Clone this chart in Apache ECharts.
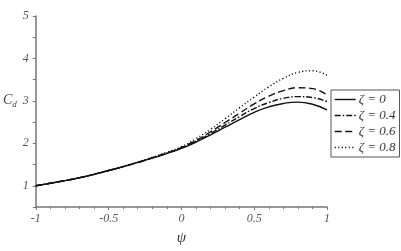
<!DOCTYPE html>
<html><head><meta charset="utf-8">
<script src="https://cdn.jsdelivr.net/npm/echarts@6/dist/echarts.min.js"></script>
<style>html,body{margin:0;padding:0;background:#fff}#c{width:401px;height:251px}</style>
</head><body><div id="c"></div>
<script>
var psi = [-1,-0.9,-0.8,-0.7,-0.6,-0.5,-0.4,-0.3,-0.2,-0.1,0,0.1,0.2,0.3,0.4,0.5,0.6,0.7,0.8,0.9,1];
var zeta0  = [1.00,1.06,1.12,1.19,1.27,1.36,1.45,1.55,1.65,1.76,1.88,2.03,2.20,2.38,2.56,2.73,2.86,2.94,2.97,2.92,2.79];
var zeta04 = [1.00,1.06,1.12,1.19,1.27,1.36,1.45,1.55,1.66,1.77,1.89,2.05,2.23,2.43,2.63,2.82,2.96,3.06,3.10,3.08,2.98];
var zeta06 = [1.00,1.06,1.12,1.19,1.27,1.36,1.45,1.55,1.66,1.77,1.90,2.07,2.27,2.49,2.71,2.93,3.11,3.24,3.31,3.29,3.14];
var zeta08 = [1.00,1.06,1.12,1.19,1.27,1.36,1.46,1.56,1.67,1.79,1.92,2.11,2.33,2.58,2.84,3.09,3.33,3.53,3.67,3.71,3.60];
var seriesNames = ['ζ = 0','ζ = 0.4','ζ = 0.6','ζ = 0.8'];
var xTicks = ['-1','-0.5','0','0.5','1'];
var yTicks = ['1','2','3','4','5'];

function pairs(v){ return psi.map(function(x,i){ return [x, v[i]]; }); }
var dashes = ['solid', [6,2,1.5,2], [7,3.5], [1.2,2.3]];
var vals = [zeta0, zeta04, zeta06, zeta08];
var font = '"Liberation Serif","Times New Roman",serif';

var chart = echarts.init(document.getElementById('c'), null, {renderer:'canvas'});
chart.setOption({
  animation:false,
  backgroundColor:'#fff',
  grid:{left:30, right:74, top:16, bottom:38},
  legend:{
    orient:'vertical', left:331, top:90, width:66,
    padding:[3,4,3,3], itemGap:3, itemWidth:21, itemHeight:14,
    borderColor:'#555', borderWidth:1, backgroundColor:'#fff',
    data:seriesNames,
    itemStyle:{opacity:0, color:'transparent', borderWidth:0},
    lineStyle:{width:1.4},
    textStyle:{fontFamily:font, fontStyle:'italic', fontSize:13, color:'#333', padding:[0,0,0,-2]}
  },
  xAxis:{
    type:'value', min:-1, max:1, interval:0.5,
    name:'ψ', nameLocation:'middle', nameGap:24,
    nameTextStyle:{fontFamily:font, fontStyle:'italic', fontSize:15, color:'#333'},
    axisLine:{show:true, onZero:false, lineStyle:{color:'#777', width:1.5}},
    axisTick:{show:true, length:3, inside:false, lineStyle:{color:'#777'}},
    minorTick:{show:true, splitNumber:5, length:2, lineStyle:{color:'#777'}},
    splitLine:{show:false},
    axisLabel:{fontFamily:font, fontStyle:'italic', fontSize:12, color:'#555', margin:6,
      formatter:function(v){ var i = Math.round((v+1)/0.5); return Math.abs(v - (-1+0.5*i))<1e-6 ? xTicks[i] : ''; }}
  },
  yAxis:{
    type:'value', min:0.5, max:5, interval:0.5,
    name:'{c|C}{d|d}', nameLocation:'middle', nameRotate:0, nameGap:19,
    nameTextStyle:{padding:[0,0,22,0], rich:{
      c:{fontFamily:font, fontStyle:'italic', fontSize:14, color:'#444'},
      d:{fontFamily:font, fontStyle:'italic', fontSize:9, color:'#444', verticalAlign:'bottom', padding:[8,0,0,0]}}},
    axisLine:{show:true, onZero:false, lineStyle:{color:'#777', width:1.5}},
    axisTick:{show:true, length:3, lineStyle:{color:'#777'}},
    splitLine:{show:false},
    axisLabel:{fontFamily:font, fontStyle:'italic', fontSize:12, color:'#555', margin:7,
      formatter:function(v){ var r = Math.round(v); return Math.abs(v-r)<1e-6 && r>=1 ? yTicks[r-1] : ''; }}
  },
  series: seriesNames.map(function(n,k){
    return {
      name:n, type:'line', data:pairs(vals[k]), smooth:true, symbol:'none',
      lineStyle:{color:'#111', width:1.4, type:dashes[k]},
      itemStyle:{color:'#111'}
    };
  })
});
</script></body></html>
